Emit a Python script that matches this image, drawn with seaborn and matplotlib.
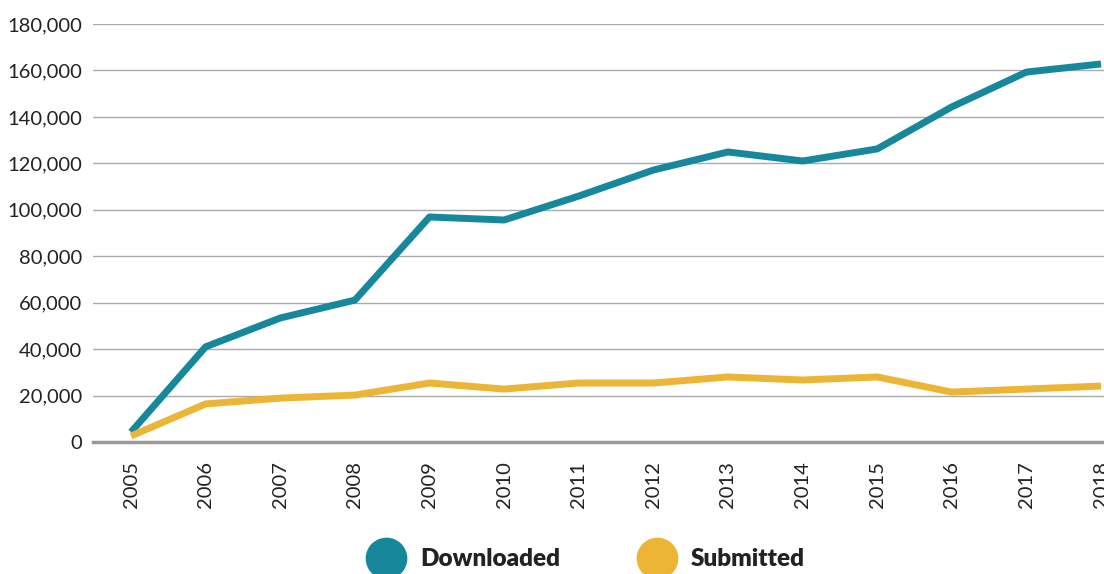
import pandas as pd
import numpy as np
import matplotlib.pyplot as plt
import seaborn as sns
from matplotlib.lines import Line2D
from matplotlib.ticker import FuncFormatter

# data
years = list(range(2005, 2019))
downloaded = [4300, 41000, 53400, 61100, 96900, 95600, 105900, 117100,
              124900, 121000, 126200, 144300, 159300, 162800]
submitted = [2600, 16400, 18900, 20200, 25400, 22800, 25400, 25400,
             28000, 26700, 28000, 21500, 22800, 24100]
series = ['Downloaded', 'Submitted']
colors = ['#17889c', '#ecb535']

df = pd.DataFrame({'year': years * 2,
                   'count': downloaded + submitted,
                   'series': ['Downloaded'] * len(years) + ['Submitted'] * len(years)})

sns.set_style('white')
plt.rcParams['font.family'] = ['Lato', 'DejaVu Sans']

fig = plt.figure(figsize=(11.04, 5.74), dpi=100)
ax = fig.add_axes([93 / 1104, 132 / 574, 1 - 93 / 1104, (442 - 24) / 574])

sns.lineplot(data=df, x='year', y='count', hue='series', palette=colors,
             linewidth=5, ax=ax, legend=False, solid_capstyle='butt')

ax.set_xlim(2004.49, 2018.04)
ax.set_ylim(0, 180000)
ax.set_yticks(np.arange(0, 180001, 20000))
ax.yaxis.set_major_formatter(FuncFormatter(lambda v, p: f'{int(v):,}'))
ax.set_xticks(years)
ax.set_xticklabels([str(y) for y in years], rotation=90)
ax.tick_params(axis='both', labelsize=14.5, colors='#222222', length=0)
ax.tick_params(axis='x', pad=14)
ax.tick_params(axis='y', pad=8)
ax.grid(axis='y', color='#aaaaaa', linewidth=1)
ax.set_axisbelow(True)
for s in ['top', 'right', 'left']:
    ax.spines[s].set_visible(False)
ax.spines['bottom'].set_color('#999999')
ax.spines['bottom'].set_linewidth(2.5)
ax.set_xlabel('')
ax.set_ylabel('')

handles = [Line2D([], [], marker='o', linestyle='none', markersize=29,
                  markerfacecolor=c, markeredgecolor=c) for c in colors]
leg = ax.legend(handles, series, loc='center', bbox_to_anchor=(0.485, -0.28),
                ncol=2, frameon=False, handletextpad=0.4, columnspacing=3.0,
                prop={'weight': 'heavy', 'size': 17.5})
for t in leg.get_texts():
    t.set_color('#222222')

fig.savefig('out.png', dpi=100)
